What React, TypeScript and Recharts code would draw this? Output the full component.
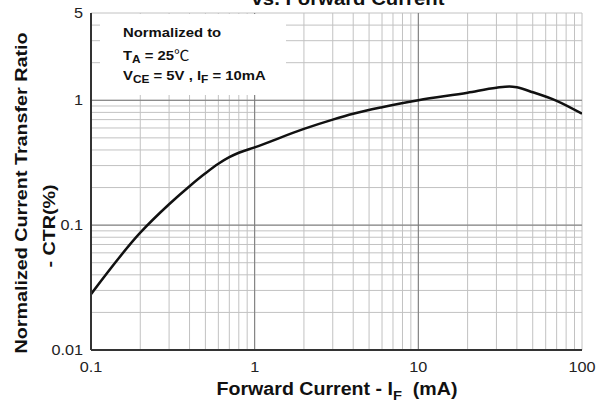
import { LineChart, Line, XAxis, YAxis, CartesianGrid, ReferenceLine } from 'recharts'

// Forward current I_F (mA) and normalized CTR
const current = [0.1, 0.2, 0.3, 0.4, 0.5, 0.6, 0.7, 0.8, 1, 2, 3, 4, 6, 10, 20, 30, 36, 40, 50, 70, 100]
const ctr = [0.028, 0.087, 0.147, 0.205, 0.26, 0.31, 0.35, 0.38, 0.42, 0.59, 0.7, 0.78, 0.88, 1.0, 1.15, 1.26, 1.29, 1.27, 1.16, 0.99, 0.78]

// grid ticks (log decades with minor lines) and labelled ticks
const xTicks = [0.1, 0.2, 0.3, 0.4, 0.5, 0.6, 0.7, 0.8, 0.9, 1, 2, 3, 4, 5, 6, 7, 8, 9, 10, 20, 30, 40, 50, 60, 70, 80, 90, 100]
const xLabels = [0.1, 1, 10, 100]
const yTicks = [0.01, 0.02, 0.03, 0.04, 0.05, 0.06, 0.07, 0.08, 0.09, 0.1, 0.2, 0.3, 0.4, 0.5, 0.6, 0.7, 0.8, 0.9, 1, 2, 3, 4, 5]
const yLabels = [0.01, 0.1, 1, 5]
const xDecades = [1, 10]
const yDecades = [0.1, 1]

const data = current.map((x, i) => ({ x, y: ctr[i] }))

const FONT = 'Arial, "Liberation Sans", Helvetica, sans-serif'
const BORDER = '#333'

function Tick({ x, y, payload, textAnchor, labels, vertical }: any) {
  if (!labels.includes(payload.value)) return null
  return (
    <g transform={`translate(${x},${y})`}>
      <text transform="scale(1.12,1)" textAnchor={textAnchor} dy={vertical ? '0.355em' : '0.71em'}
        fontSize={14.5} fontFamily={FONT} fill="#222">{String(payload.value)}</text>
    </g>
  )
}

const sub = (t: string, size = 0.75, top = '0.4em') => (
  <span style={{ fontSize: `${size}em`, position: 'relative', top }}>{t}</span>
)

export default function App() {
  const txt = { position: 'absolute' as const, whiteSpace: 'nowrap' as const, fontFamily: FONT, fontWeight: 700, color: '#111', lineHeight: 1 }
  return (
    <div style={{ position: 'absolute', left: 0, top: 0, width: 606, height: 403, overflow: 'hidden', background: '#fff' }}>
      <LineChart width={606} height={403} data={data} margin={{ top: 13, right: 24, bottom: 23, left: 31 }}>
        <CartesianGrid stroke="#c2c2c2" strokeWidth={1} />
        {xDecades.map(v => <ReferenceLine key={'x' + v} x={v} stroke="#7a7a7a" strokeWidth={1} />)}
        {yDecades.map(v => <ReferenceLine key={'y' + v} y={v} stroke="#7a7a7a" strokeWidth={1} />)}
        <XAxis dataKey="x" type="number" scale="log" domain={[0.1, 100]} ticks={xTicks} allowDataOverflow
          height={30} tickLine={false} tickMargin={6} axisLine={{ stroke: BORDER, strokeWidth: 2 }}
          tick={<Tick labels={xLabels} />} interval={0} />
        <XAxis xAxisId="top" orientation="top" height={0} tick={false} tickLine={false}
          axisLine={{ stroke: BORDER, strokeWidth: 2 }} />
        <YAxis type="number" scale="log" domain={[0.01, 5]} ticks={yTicks} allowDataOverflow
          width={60} tickLine={false} axisLine={{ stroke: BORDER, strokeWidth: 2 }}
          tick={<Tick labels={yLabels} vertical />} interval={0} />
        <YAxis yAxisId="right" orientation="right" width={0} tick={false} tickLine={false}
          axisLine={{ stroke: BORDER, strokeWidth: 2 }} />
        <Line dataKey="y" type="monotone" stroke="#111" strokeWidth={2.5} dot={false} isAnimationActive={false} />
      </LineChart>

      {/* annotation box covers the grid */}
      <div style={{ position: 'absolute', left: 100, top: 14, width: 186, height: 81, background: '#fff' }} />
      <div style={{ ...txt, left: 123, top: 26, fontSize: 13.5, transform: 'scaleX(1.1)', transformOrigin: 'left center' }}>Normalized to</div>
      <div style={{ ...txt, left: 123, top: 47, fontSize: 13.5, transform: 'scaleX(1.1)', transformOrigin: 'left center' }}>
        T{sub('A', 0.8, '0.3em')} = 25<span style={{ fontWeight: 400, fontFamily: '"Noto Sans CJK SC", "DejaVu Sans", sans-serif', fontSize: 14 }}>℃</span>
      </div>
      <div style={{ ...txt, left: 123, top: 69, fontSize: 13.5, transform: 'scaleX(1.1)', transformOrigin: 'left center' }}>
        V{sub('CE', 0.8, '0.3em')} = 5V , I{sub('F', 0.8, '0.3em')} = 10mA
      </div>

      {/* title, cut by the top edge */}
      <div style={{ ...txt, left: 348, top: -9, fontSize: 17.5, transform: 'translateX(-50%) scaleX(1.16)' }}>vs. Forward Current</div>

      {/* axis titles */}
      <div style={{ ...txt, left: 21, top: 193, fontSize: 17, transform: 'translate(-50%,-50%) rotate(-90deg) scaleX(1.16)' }}>
        Normalized Current Transfer Ratio
      </div>
      <div style={{ ...txt, left: 49, top: 226, fontSize: 17, transform: 'translate(-50%,-50%) rotate(-90deg) scaleX(1.16)' }}>
        - CTR(%)
      </div>
      <div style={{ ...txt, left: 337, top: 390, fontSize: 17.5, transform: 'translate(-50%,-50%) scaleX(1.12)' }}>
        Forward Current - I{sub('F')}{'\u00a0 '}(mA)
      </div>
    </div>
  )
}
